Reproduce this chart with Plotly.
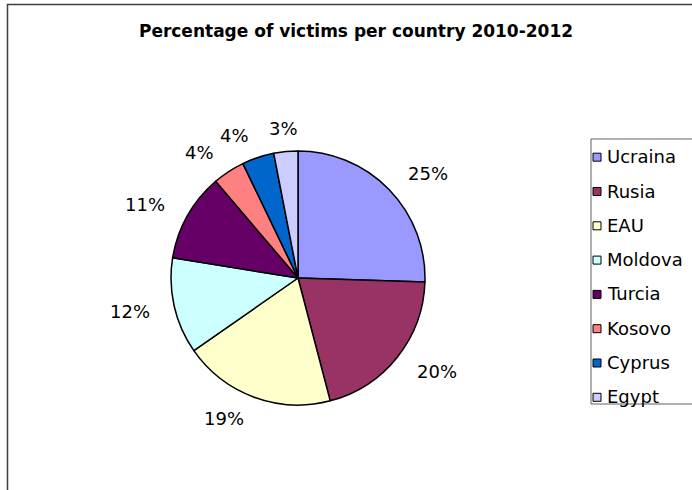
import math
import plotly.graph_objects as go

countries = ["Ucraina", "Rusia", "EAU", "Moldova", "Turcia", "Kosovo", "Cyprus", "Egypt"]
percentages = [25, 20, 19, 12, 11, 4, 4, 3]
colors = ["#9999FF", "#993366", "#FFFFCC", "#CCFFFF", "#660066", "#FF8080", "#0066CC", "#CCCCFF"]
title_text = "Percentage of victims per country 2010-2012"

W, H = 692, 490
FONT = "DejaVu Sans, Liberation Sans, Arial, sans-serif"

# pie geometry in pixels
cx, cy, r = 298, 278, 127
label_r = 150


def px_x(x):
    return x / W


def px_y(y):
    return 1 - y / H


fig = go.Figure()
fig.add_trace(go.Pie(
    labels=countries,
    values=percentages,
    marker=dict(colors=colors, line=dict(color="#000000", width=1.5)),
    sort=False,
    direction="clockwise",
    rotation=0,
    textinfo="none",
    showlegend=False,
    hoverinfo="label+value",
    domain=dict(x=[px_x(cx - r), px_x(cx + r)], y=[px_y(cy + r), px_y(cy - r)]),
))

shapes = []
annotations = []

# data labels placed outside each slice along its mid angle
total = sum(percentages)
cum = 0
for v in percentages:
    mid = (cum + v / 2) / total * 2 * math.pi
    cum += v
    s, c = math.sin(mid), math.cos(mid)
    lx = cx + label_r * s
    ly = cy - label_r * c
    if s > 0.15:
        xa = "left"
    elif s < -0.15:
        xa = "right"
    else:
        xa = "center"
    annotations.append(dict(xref="paper", yref="paper", x=px_x(lx), y=px_y(ly),
                            xanchor=xa, yanchor="middle", showarrow=False,
                            text=f"{v}%", font=dict(family=FONT, size=18, color="#000000")))

# outer chart frame (cropped on right and bottom)
shapes.append(dict(type="rect", xref="paper", yref="paper",
                   x0=px_x(7.5), x1=px_x(W + 20), y0=px_y(H + 20), y1=px_y(4.5),
                   line=dict(color="#404040", width=1.5), fillcolor="rgba(0,0,0,0)"))

# legend box
shapes.append(dict(type="rect", xref="paper", yref="paper",
                   x0=px_x(591), x1=px_x(W + 20), y0=px_y(404), y1=px_y(139),
                   line=dict(color="#606060", width=1), fillcolor="rgba(0,0,0,0)"))

leg_top = 156.7
leg_step = 34.3
for i, (name, col) in enumerate(zip(countries, colors)):
    yc = leg_top + i * leg_step
    shapes.append(dict(type="rect", xref="paper", yref="paper",
                       x0=px_x(593), x1=px_x(601), y0=px_y(yc + 4.5), y1=px_y(yc - 3.5),
                       line=dict(color="#000000", width=1), fillcolor=col))
    annotations.append(dict(xref="paper", yref="paper", x=px_x(605), y=px_y(yc),
                            xanchor="left", yanchor="middle", showarrow=False,
                            text=name, font=dict(family=FONT, size=18, color="#000000")))

fig.update_layout(
    width=W, height=H,
    margin=dict(l=0, r=0, t=0, b=0),
    paper_bgcolor="#FFFFFF",
    plot_bgcolor="#FFFFFF",
    title=dict(text="<b>" + title_text + "</b>", x=356 / W, xanchor="center",
               y=px_y(31), yanchor="middle",
               font=dict(family=FONT, size=17, color="#000000")),
    shapes=shapes,
    annotations=annotations,
)

fig.write_html("out.html")
